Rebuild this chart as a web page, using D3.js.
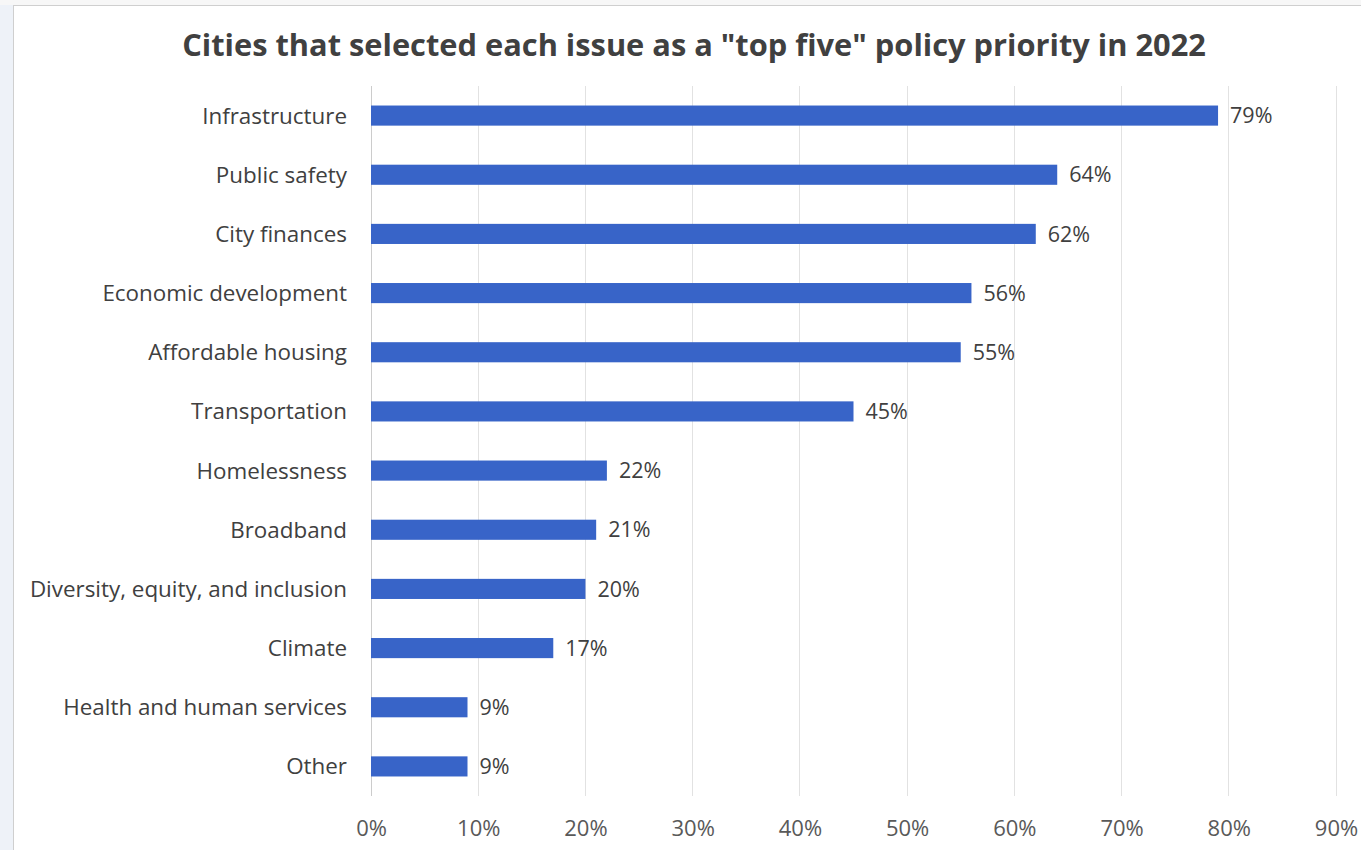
<!DOCTYPE html>
<html>
<head>
<meta charset="utf-8">
<script src="https://cdn.jsdelivr.net/npm/d3@7"></script>
<style>
  html, body { margin: 0; padding: 0; background: #eef2f8; }
  svg { display: block; }
</style>
</head>
<body>
<svg id="chart" width="1361" height="850"></svg>
<script>
// Issues, in the order they are listed top to bottom
const issues = [
  "Infrastructure", "Public safety", "City finances", "Economic development",
  "Affordable housing", "Transportation", "Homelessness", "Broadband",
  "Diversity, equity, and inclusion", "Climate", "Health and human services", "Other"
];
// Share of cities (%) naming each issue as a top-five priority
const shares = [79, 64, 62, 56, 55, 45, 22, 21, 20, 17, 9, 9];
// Axis ticks (%)
const tickValues = [0, 10, 20, 30, 40, 50, 60, 70, 80, 90];
const titleText = 'Cities that selected each issue as a "top five" policy priority in 2022';

const svg = d3.select("#chart");
const W = 1361, H = 850;
const font = "'Open Sans', Lato, sans-serif";

// Chart frame
svg.append("rect").attr("x", 0).attr("y", 0).attr("width", W).attr("height", 5).attr("fill", "#f7f7f7");
svg.append("rect")
  .attr("x", 13.5).attr("y", 5.5).attr("width", W).attr("height", H)
  .attr("fill", "#ffffff").attr("stroke", "#cfcfcf").attr("stroke-width", 1);

const margin = { left: 371, right: W - 1336, top: 86, bottom: H - 796 };

const x = d3.scaleLinear().domain([0, 90]).range([margin.left, 1336]);
const y = d3.scaleBand().domain(issues).range([margin.top, H - margin.bottom]).paddingInner(0.66).paddingOuter(0.33);

// Vertical gridlines
svg.append("g").selectAll("line").data(tickValues).join("line")
  .attr("x1", d => x(d)).attr("x2", d => x(d))
  .attr("y1", margin.top).attr("y2", H - margin.bottom)
  .attr("stroke", d => d === 0 ? "#cccccc" : "#e2e2e2").attr("stroke-width", 1)
  .attr("shape-rendering", "crispEdges");

// Bars
svg.append("g").selectAll("rect").data(issues).join("rect")
  .attr("x", x(0))
  .attr("y", d => y(d))
  .attr("width", (d, i) => x(shares[i]) - x(0))
  .attr("height", y.bandwidth())
  .attr("fill", "#3864c8");

// Value labels
svg.append("g").selectAll("text").data(issues).join("text")
  .attr("x", (d, i) => x(shares[i]) + 12)
  .attr("y", d => y(d) + y.bandwidth() / 2)
  .attr("dy", "0.36em")
  .attr("font-family", font).attr("font-size", 21.5).attr("fill", "#404040")
  .text((d, i) => shares[i] + "%");

// Category labels
svg.append("g").selectAll("text").data(issues).join("text")
  .attr("x", x(0) - 24)
  .attr("y", d => y(d) + y.bandwidth() / 2)
  .attr("dy", "0.36em")
  .attr("text-anchor", "end")
  .attr("font-family", font).attr("font-size", 22.4).attr("fill", "#404040")
  .text(d => d);

// Bottom axis labels
const xAxis = d3.axisBottom(x).tickValues(tickValues).tickSize(0).tickPadding(0).tickFormat(d => d + "%");
const gx = svg.append("g").attr("transform", `translate(0, ${H - margin.bottom + 24})`).call(xAxis);
gx.select(".domain").remove();
gx.selectAll("text")
  .attr("font-family", font).attr("font-size", 22).attr("fill", "#595959");

// Title
svg.append("text")
  .attr("x", 694).attr("y", 56)
  .attr("text-anchor", "middle")
  .attr("font-family", font).attr("font-size", 30.8).attr("font-weight", "bold")
  .attr("fill", "#404040")
  .text(titleText);
</script>
</body>
</html>
